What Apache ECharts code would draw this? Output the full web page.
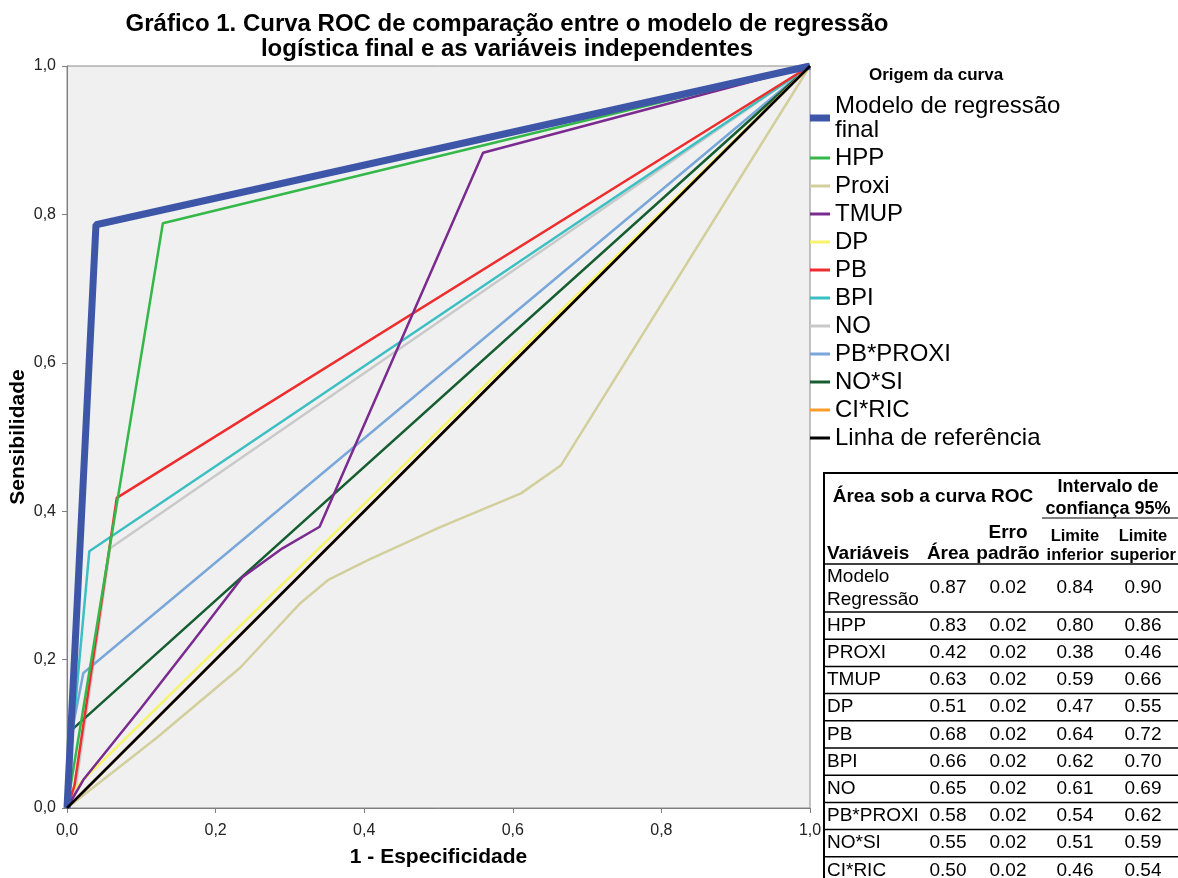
<!DOCTYPE html>
<html>
<head>
<meta charset="utf-8">
<script src="https://cdn.jsdelivr.net/npm/echarts@6/dist/echarts.min.js"></script>
<style>
html,body{margin:0;padding:0;background:#fff;}
#chart{width:1178px;height:878px;}
</style>
</head>
<body>
<div id="chart"></div>
<script>
// ---- data ----
var seriesNames = ['Modelo de regressão final','HPP','Proxi','TMUP','DP','PB','BPI','NO','PB*PROXI','NO*SI','CI*RIC','Linha de referência'];
var modeloPts = [[0,0],[0.039,0.786],[1,1]];
var hppPts = [[0,0],[0.129,0.788],[1,1]];
var proxiPts = [[0,0],[0.12,0.094],[0.233,0.189],[0.314,0.276],[0.351,0.307],[0.405,0.334],[0.503,0.379],[0.611,0.424],[0.665,0.462],[1,1]];
var tmupPts = [[0,0],[0.022,0.038],[0.1,0.135],[0.17,0.225],[0.236,0.311],[0.29,0.35],[0.34,0.379],[0.56,0.883],[1,1]];
var dpPts = [[0,0],[0.006,0.022],[1,1]];
var pbPts = [[0,0],[0.01,0.03],[0.067,0.418],[1,1]];
var bpiPts = [[0,0],[0.004,0.06],[0.03,0.346],[1,1]];
var noPts = [[0,0],[0.012,0.03],[0.058,0.35],[1,1]];
var pbproxiPts = [[0,0],[0.006,0.1],[0.022,0.182],[1,1]];
var nosiPts = [[0,0],[0.006,0.105],[1,1]];
var ciricPts = [[0,0],[1,1]];
var refPts = [[0,0],[1,1]];

var tableVars = ['Modelo\nRegressão','HPP','PROXI','TMUP','DP','PB','BPI','NO','PB*PROXI','NO*SI','CI*RIC'];
var tableArea = ['0.87','0.83','0.42','0.63','0.51','0.68','0.66','0.65','0.58','0.55','0.50'];
var tableErro = ['0.02','0.02','0.02','0.02','0.02','0.02','0.02','0.02','0.02','0.02','0.02'];
var tableInf = ['0.84','0.80','0.38','0.59','0.47','0.64','0.62','0.61','0.54','0.51','0.46'];
var tableSup = ['0.90','0.86','0.46','0.66','0.55','0.72','0.70','0.69','0.62','0.59','0.54'];

// ---- styles ----
var ptsList = [modeloPts,hppPts,proxiPts,tmupPts,dpPts,pbPts,bpiPts,noPts,pbproxiPts,nosiPts,ciricPts,refPts];
var colors = ['#3d56a8','#35b84a','#d3cf9c','#7b2b8f','#f7f36b','#ee2e2e','#3cbfc2','#c9c9c9','#79a7da','#165e30','#ff9c2a','#000000'];
var widths = [7,2.5,2.5,2.5,2.5,2.5,2.5,2.5,2.5,2.5,2.5,2.5];
var drawOrder = [7,2,8,9,4,10,6,5,3,1,0,11];

var FONT = '"Liberation Sans", Arial, Helvetica, sans-serif';
var chart = echarts.init(document.getElementById('chart'), null, {renderer:'canvas'});

var series = drawOrder.map(function(i){
  return {
    name: seriesNames[i], type:'line', data: ptsList[i], symbol:'none', silent:true,
    lineStyle:{color:colors[i], width:widths[i]}, itemStyle:{color:colors[i]},
    animation:false
  };
});

var legendData = seriesNames.map(function(n,i){
  var h = widths[i] > 3 ? 7 : 3;
  return {name:n, icon:'path://M0,0H20V'+h+'H0Z', itemStyle:{color:colors[i]}};
});

// table graphic
var G = [];
var tL = 824, tR = 1178, tT = 473, tB = 880;
G.push({type:'rect', shape:{x:tL, y:tT, width:tR-tL+2, height:tB-tT}, style:{fill:'#fff', stroke:'#000', lineWidth:2}, z:100});
function txt(x,y,t,opt){
  opt = opt||{};
  G.push({type:'text', x:x, y:y, z:101, style:{text:t, fill:'#000', font:(opt.bold?'bold ':'')+(opt.size||19)+'px '+FONT, textAlign:opt.align||'center', textVerticalAlign:'middle', lineHeight:opt.lh||23}});
}
function hline(x1,x2,y,w){
  G.push({type:'line', z:101, shape:{x1:x1,y1:y,x2:x2,y2:y}, style:{stroke:'#000', lineWidth:w||1.5}});
}
var colX = [827, 948, 1008, 1075, 1143];
txt(933, 497, 'Área sob a curva ROC', {bold:true, size:19});
txt(1108, 487, 'Intervalo de', {bold:true, size:18});
txt(1108, 509, 'confiança 95%', {bold:true, size:18});
hline(1042, 1178, 518, 1);
txt(colX[2], 533, 'Erro', {bold:true, size:19});
txt(colX[2], 554, 'padrão', {bold:true, size:19});
txt(colX[3], 536, 'Limite', {bold:true, size:16.5});
txt(colX[3], 555, 'inferior', {bold:true, size:16.5});
txt(colX[4], 536, 'Limite', {bold:true, size:16.5});
txt(colX[4], 555, 'superior', {bold:true, size:16.5});
txt(colX[0], 554, 'Variáveis', {bold:true, size:19, align:'left'});
txt(colX[1], 554, 'Área', {bold:true, size:19});
hline(tL, tR, 564, 1.5);
var rowTop = 564;
for (var r=0; r<tableVars.length; r++){
  var h = r===0 ? 48 : 27.2;
  var cy = rowTop + h/2;
  txt(colX[0], cy, tableVars[r], {align:'left'});
  txt(colX[1], cy, tableArea[r]);
  txt(colX[2], cy, tableErro[r]);
  txt(colX[3], cy, tableInf[r]);
  txt(colX[4], cy, tableSup[r]);
  rowTop += h;
  if (r < tableVars.length-1) hline(tL, tR, rowTop, 1.5);
}
G.push({type:'text', x:936, y:75, z:50, style:{text:'Origem da curva', fill:'#000', font:'bold 17px '+FONT, textAlign:'center', textVerticalAlign:'middle'}});

var axisCommon = {
  type:'value', min:0, max:1, interval:0.2,
  axisLine:{show:true, lineStyle:{color:'#7f7f7f', width:1}},
  axisTick:{show:true, length:5, lineStyle:{color:'#7f7f7f'}},
  splitLine:{show:false},
  nameLocation:'middle',
  nameMoveOverlap:false,
  nameTextStyle:{fontFamily:FONT, fontWeight:'bold', fontSize:21, color:'#000'}
};
function fmt(v){ return v.toFixed(1).replace('.',','); }

var option = {
  backgroundColor:'#ffffff',
  animation:false,
  title:{
    text:'Gráfico 1. Curva ROC de comparação entre o modelo de regressão\nlogística final e as variáveis independentes',
    left:507, top:12, textAlign:'center', padding:0,
    textStyle:{fontFamily:FONT, fontWeight:'bold', fontSize:24, lineHeight:25, color:'#000'}
  },
  grid:{left:67, right:368, top:66, bottom:70, show:true, backgroundColor:'#f0f0f0', borderColor:'#8a8a8a', borderWidth:1, containLabel:false, outerBoundsMode:'none'},
  xAxis: Object.assign({}, axisCommon, {
    name:'1 - Especificidade', nameGap:39,
    axisLabel:{fontFamily:FONT, fontSize:16, color:'#222', margin:15, formatter:fmt}
  }),
  yAxis: Object.assign({}, axisCommon, {
    name:'Sensibilidade', nameGap:38,
    axisLabel:{fontFamily:FONT, fontSize:16, color:'#222', margin:11, formatter:fmt}
  }),
  legend:{
    orient:'vertical', left:810, top:94, padding:0, itemGap:4, itemWidth:20, itemHeight:8,
    symbolKeepAspect:true, selectedMode:false,
    data:legendData,
    formatter:function(n){ return n==='Modelo de regressão final' ? 'Modelo de regressão\nfinal' : n; },
    textStyle:{fontFamily:FONT, fontSize:24, lineHeight:24, color:'#000'}
  },
  graphic:G,
  series:series
};
chart.setOption(option);
</script>
</body>
</html>
